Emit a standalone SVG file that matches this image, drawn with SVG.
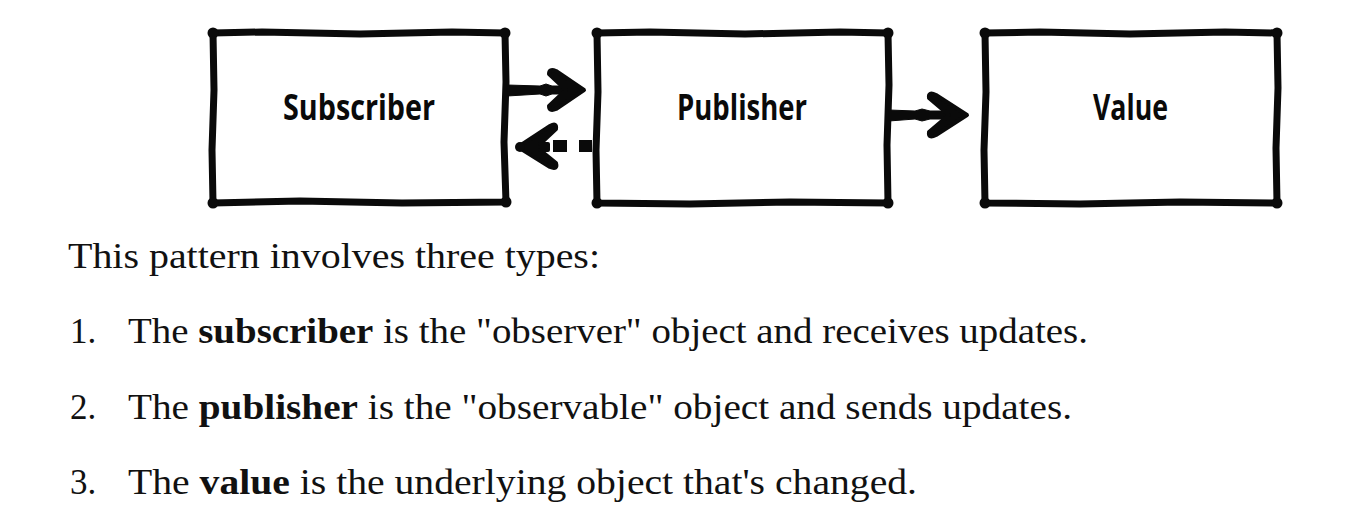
<svg xmlns="http://www.w3.org/2000/svg" width="1370" height="528" viewBox="0 0 1370 528">
  <style>
    .box { fill: #ffffff; stroke: #0a0a0a; stroke-width: 7; stroke-linejoin: round; stroke-linecap: round; }
    .blob { fill: #0a0a0a; }
    .label { font-family: "Open Sans", "Liberation Sans", sans-serif; font-size: 36px; font-weight: 700; fill: #0a0a0a; text-anchor: start; }
    .ink { fill: #0a0a0a; stroke: #0a0a0a; stroke-linejoin: round; stroke-linecap: round; }
    .body { font-family: "Liberation Serif", "DejaVu Serif", serif; font-size: 35px; fill: #111111; }
    .b { font-weight: bold; }
  </style>
  <rect width="1370" height="528" fill="#ffffff"/>

  <g id="node-subscriber">
    <path class="box" d="M213,33 L262,32 L360,34 L452,32 L505,33 L506,82 L504,142 L506,202 L402,203 L300,201 L213,203 L212,150 L214,90 Z"/>
    <circle class="blob" cx="213" cy="33" r="5.5"/>
    <circle class="blob" cx="505" cy="33" r="5.5"/>
    <circle class="blob" cx="506" cy="202" r="5.5"/>
    <circle class="blob" cx="213" cy="203" r="5.5"/>
    <text class="label" x="283" y="120" textLength="152" lengthAdjust="spacingAndGlyphs">Subscriber</text>
  </g>

  <g id="node-publisher">
    <path class="box" d="M597,33 L650,32 L745,34 L840,32 L888,33 L889,85 L887,145 L888,203 L790,202 L690,204 L597,203 L596,150 L598,92 Z"/>
    <circle class="blob" cx="597" cy="33" r="5.5"/>
    <circle class="blob" cx="888" cy="33" r="5.5"/>
    <circle class="blob" cx="888" cy="203" r="5.5"/>
    <circle class="blob" cx="597" cy="203" r="5.5"/>
    <text class="label" x="677" y="120" textLength="130" lengthAdjust="spacingAndGlyphs">Publisher</text>
  </g>

  <g id="node-value">
    <path class="box" d="M985,33 L1040,32 L1130,34 L1225,32 L1277,33 L1278,88 L1276,148 L1277,203 L1180,202 L1080,204 L985,203 L984,150 L986,92 Z"/>
    <circle class="blob" cx="985" cy="33" r="5.5"/>
    <circle class="blob" cx="1277" cy="33" r="5.5"/>
    <circle class="blob" cx="1277" cy="203" r="5.5"/>
    <circle class="blob" cx="985" cy="203" r="5.5"/>
    <text class="label" x="1093" y="120" textLength="75" lengthAdjust="spacingAndGlyphs">Value</text>
  </g>

  <g id="connectors">
    <!-- Subscriber -> Publisher (solid) -->
    <path class="ink" stroke-width="1" d="M507,85 L540,86 L546,84 L552,86 L572,86 L572,94 L552,94 L546,96 L540,94 L507,96 Z"/>
    <path class="ink" stroke-width="4" d="M584,90 L556,71 Q549,68 549,74 L566,90 L549,106 Q549,112 556,109 Z"/>

    <!-- Publisher -> Subscriber (dashed, return) -->
    <path class="ink" stroke-width="4" d="M518,147 L550,126 Q557,122 556,129 L540,144 L548,144 L548,150 L540,150 L556,163 Q558,170 550,167 Z"/>
    <circle class="blob" cx="520" cy="147" r="5"/>
    <rect class="blob" x="553" y="140" width="14" height="12"/>
    <rect class="blob" x="579" y="140" width="13" height="12"/>

    <!-- Publisher -> Value (solid) -->
    <path class="ink" stroke-width="1" d="M889,110 L915,111 L922,109 L930,111 L955,111 L955,119 L930,119 L922,121 L915,119 L889,121 Z"/>
    <path class="ink" stroke-width="4" d="M967,115 L936,95 Q928,91 929,98 L949,115 L929,132 Q928,139 936,135 Z"/>
  </g>

  <g id="caption">
    <text class="body" x="68" y="268" textLength="532" lengthAdjust="spacingAndGlyphs">This pattern involves three types:</text>
    <text class="body" x="70" y="343">1.</text>
    <text class="body" x="128" y="343" textLength="960" lengthAdjust="spacingAndGlyphs">The <tspan class="b">subscriber</tspan> is the "observer" object and receives updates.</text>
    <text class="body" x="70" y="419">2.</text>
    <text class="body" x="128" y="419" textLength="944" lengthAdjust="spacingAndGlyphs">The <tspan class="b">publisher</tspan> is the "observable" object and sends updates.</text>
    <text class="body" x="70" y="494">3.</text>
    <text class="body" x="128" y="494" textLength="789" lengthAdjust="spacingAndGlyphs">The <tspan class="b">value</tspan> is the underlying object that's changed.</text>
  </g>
</svg>
